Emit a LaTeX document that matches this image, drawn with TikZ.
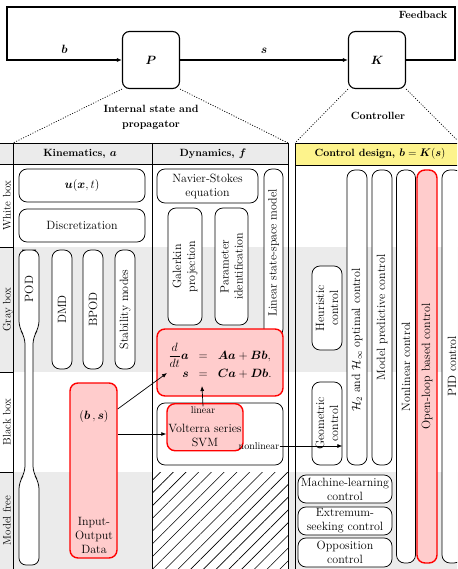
\documentclass[tikz,border=0pt]{standalone}
\usepackage{amsmath}
\usepackage{amssymb}
\usepackage{xcolor}
\usepackage{tikz}
\usetikzlibrary{positioning, arrows.meta, patterns.meta}

\definecolor{hdryellow}{RGB}{253,243,140}
\definecolor{rowgray}{RGB}{235,235,235}
\tikzset{
  rbox/.style={draw, rounded corners=8pt, fill=white, line width=0.75pt, inner sep=1pt, align=center},
  redbox/.style={rbox, draw=red, fill=red!20, line width=1.4pt},
  vbox/.style={rbox, rotate=90},
  blk/.style={draw, rounded corners=7pt, line width=1.1pt, minimum size=57pt, fill=white},
  hdr/.style={font=\fontsize{10.5}{14.5}\selectfont\bfseries, inner sep=0pt, align=center},
  rowlbl/.style={rotate=90, anchor=base, inner sep=0pt, font=\fontsize{11}{13}\selectfont},
  small/.style={font=\fontsize{10}{11}\selectfont, inner sep=0pt},
  dots/.style={dash pattern=on 1pt off 1.6pt, line width=0.7pt},
  arr/.style={-{Latex[length=5pt,width=4pt]}, line width=0.7pt},
}

\begin{document}
\begin{tikzpicture}[x=1pt, y=-1pt, font=\fontsize{12}{14}\selectfont]
\useasboundingbox (0,0) rectangle (457,569);
\clip (0,0) rectangle (457,569);

% rows and headers
\fill[rowgray] (0,247) rectangle (460,372);
\fill[rowgray] (0,472) rectangle (460,569);
\fill[rowgray] (0,143) rectangle (288,164);
\fill[hdryellow] (295,143) rectangle (460,165);
\fill[white] (152,472) rectangle (288,569);
\fill[pattern={Lines[angle=45,distance=9pt,line width=0.6pt]}] (152,472) rectangle (288,569);
\draw[line width=0.75pt] (0,143) -- (288,143) (0,164) -- (288,164);
\draw[line width=0.75pt] (13,143) -- (13,569) (152,143) -- (152,569) (288,143) -- (288,569);
\draw[line width=0.75pt] (0,247) -- (13,247) (0,372) -- (13,372) (0,472) -- (13,472);
\draw[line width=0.75pt] (460,143) -- (295,143) -- (295,569) (295,165) -- (460,165);
\coordinate (kinNW) at (13,143);
\coordinate (dynNE) at (288,143);
\coordinate (ctlNW) at (295,143);
\coordinate (ctlNE) at (460,143);

\node[rowlbl] (wbox) at (10.5,205.5) {White box};
\node[rowlbl] (gbox) at (10.5,309.5) {Gray box};
\node[rowlbl] (bbox) at (10.5,422) {Black box};
\node[rowlbl] (mfree) at (10.5,520.5) {Model free};
\node[hdr] (kinhdr) at (80,154) {Kinematics, $\boldsymbol{a}$};
\node[hdr] (dynhdr) at (213,154) {Dynamics, $\boldsymbol{f}$};
\node[hdr] (ctlhdr) at (380,154) {Control design, $\boldsymbol{b}=\boldsymbol{K}(\boldsymbol{s})$};

% loop
\node[blk] (P) at (151,60) {$\boldsymbol{P}$};
\node[blk] (K) at (377,60) {$\boldsymbol{K}$};
\coordinate (fbR) at (455,7);
\coordinate (fbL) at (7,7);
\draw[arr, line width=1.1pt] (P) -- node[above=3pt] (slbl) {$\boldsymbol{s}$} (K);
\draw[arr, line width=1.1pt] (K.east) -| (fbR) -- (fbL) |- node[pos=0.75, above=3pt] (blbl) {$\boldsymbol{b}$} (P.west);
\node[hdr] (fb) at (423,15) {Feedback};
\node[hdr] (isp) at (151,117.5) {Internal state and\\propagator};
\node[hdr] (ctl) at (378,116) {Controller};
\draw[dots] (P.south west) -- (kinNW);
\draw[dots] (P.south east) -- (dynNE);
\draw[dots] (K.south west) -- (ctlNW);
\draw[dots] (K.south east) -- (ctlNE);

% kinematics
\node[rbox, minimum width=126, minimum height=33] (uxt) at (82,185.5) {$\boldsymbol{u}(\boldsymbol{x},t)$};
\node[rbox, minimum width=126, minimum height=33] (disc) at (82,225.5) {Discretization};
\draw[line width=0.75pt, fill=white, rounded corners=7pt] (29,250) -- (39,250) -- (39,328) -- (33,337)
  -- (33,473) -- (39,482) -- (39,565) -- (19,565) -- (19,482) -- (25,473) -- (25,337) -- (19,328)
  -- (19,250) -- cycle;
\node[rotate=90] (pod) at (29,289) {POD};
\node[vbox, minimum width=119, minimum height=20] (dmd) at (62,309.5) {DMD};
\node[vbox, minimum width=119, minimum height=20] (bpod) at (93,309.5) {BPOD};
\node[vbox, minimum width=119, minimum height=20] (stab) at (125,309.5) {Stability modes};
\node[redbox, minimum width=47, minimum height=175] (io) at (93.5,470.5) {};
\node (bs) at (94,416) {$(\boldsymbol{b}\,,\boldsymbol{s})$};
\node[align=center] (iodata) at (94,535) {Input-\\Output\\Data};

% dynamics
\node[rbox, minimum width=101, minimum height=34] (ns) at (207.5,186) {Navier-Stokes\\equation};
\node[vbox, minimum width=117, minimum height=34] (gal) at (185,266.5) {Galerkin\\projection};
\node[vbox, minimum width=117, minimum height=33] (par) at (231.5,266.5) {Parameter\\identification};
\node[vbox, minimum width=168, minimum height=19] (lss) at (273.5,253) {Linear state-space model};
\node[redbox, minimum width=126, minimum height=67] (eq) at (220,362.5)
  {$\begin{array}{rcl}
    \dfrac{d}{dt}\boldsymbol{a} & = & \boldsymbol{A}\boldsymbol{a}+\boldsymbol{B}\boldsymbol{b},\\
    \boldsymbol{s} & = & \boldsymbol{C}\boldsymbol{a}+\boldsymbol{D}\boldsymbol{b}.
  \end{array}$};
\node[rbox, minimum width=126, minimum height=62] (vouter) at (220,434) {};
\node[redbox, minimum width=76, minimum height=47, anchor=north] (volt) at (205,403) {};
\node[small] (lin) at (203,410) {linear};
\node[align=center] (vtxt) at (205,435) {Volterra series\\SVM};
\node[small] (nonlin) at (259,446) {nonlinear};
\coordinate (eqin) at (167,373);
\coordinate (eqlow) at (202,386);
\coordinate (ioY) at (0,434);
\draw[arr] ([yshift=7pt]bs.east -| io.east) -- (eqin);
\draw[arr] (io.east |- ioY) -- (volt.west |- ioY);
\draw[arr] (lin.north) -- (eqlow);

% control design
\node[vbox, minimum width=84, minimum height=30] (heur) at (327,308) {Heuristic\\control};
\node[vbox, minimum width=83, minimum height=30] (geo) at (327,423.5) {Geometric\\control};
\node[vbox, minimum width=295, minimum height=20] (hinf) at (357,317.5) {};
\node[rotate=90] (hinftxt) at (357,340) {$\mathcal{H}_2$ and $\mathcal{H}_\infty$ optimal control};
\node[vbox, minimum width=295, minimum height=20] (mpc) at (382,317.5) {Model predictive control};
\node[vbox, minimum width=393, minimum height=19] (nlc) at (406,366.5) {Nonlinear control};
\node[redbox, rotate=90, minimum width=393, minimum height=20] (olc) at (427,366.5) {Open-loop based control};
\node[vbox, minimum width=393, minimum height=20] (pid) at (452,366.5) {PID control};
\node[rbox, minimum width=94, minimum height=28] (mlc) at (345,489) {Machine-learning\\control};
\node[rbox, minimum width=94, minimum height=28] (esc) at (345,521) {Extremum-\\seeking control};
\node[rbox, minimum width=94, minimum height=29] (opp) at (345,552.5) {Opposition\\control};
\draw[arr] (nonlin.east) -- (nonlin.east -| geo.south);
\end{tikzpicture}
\end{document}
